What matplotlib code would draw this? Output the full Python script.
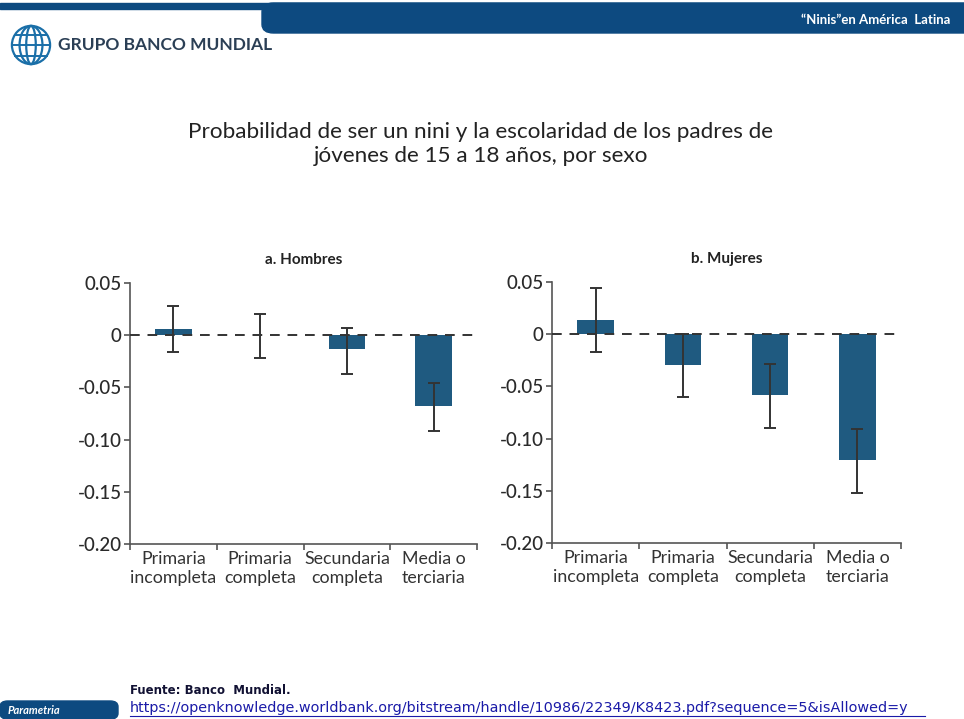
import matplotlib.pyplot as plt
from matplotlib.patches import FancyBboxPatch, Rectangle, Ellipse

plt.rcParams['font.family'] = ['Lato', 'DejaVu Sans']

categorias = ['Primaria\nincompleta', 'Primaria\ncompleta', 'Secundaria\ncompleta', 'Media o\nterciaria']

# Hombres: coeficiente y extremos del intervalo
hombres = [0.006, 0.0, -0.013, -0.068]
hombres_alto = [0.028, 0.0205, 0.007, -0.0457]
hombres_bajo = [-0.016, -0.0217, -0.037, -0.092]

# Mujeres
mujeres = [0.0134, -0.0297, -0.058, -0.1207]
mujeres_alto = [0.0438, 0.0, -0.029, -0.091]
mujeres_bajo = [-0.017, -0.060, -0.0898, -0.1517]

yticks = [0.05, 0, -0.05, -0.10, -0.15, -0.20]
ytick_labels = ['0.05', '0', '-0.05', '-0.10', '-0.15', '-0.20']

azul = '#1f5a80'
W, H = 964, 719

fig = plt.figure(figsize=(9.64, 7.19), dpi=100)
fig.patch.set_facecolor('white')


def fx(px):
    return px / W


def fy(py):
    return 1 - py / H


# header band
fig.patches.append(Rectangle((0, fy(9)), 1, 6 / H, transform=fig.transFigure,
                             color='#0d4a80', zorder=0))
fig.patches.append(FancyBboxPatch((fx(262), fy(33)), fx(720), 30 / H,
                                  boxstyle='round,pad=0,rounding_size=0.012',
                                  transform=fig.transFigure, color='#0d4a80', zorder=0))
fig.text(fx(950), fy(20), '\u201cNinis\u201den Am\u00e9rica  Latina', color='white',
         fontsize=9.5, fontweight='bold', ha='right', va='center')

# logo
globe = fig.add_axes([fx(10), fy(66), fx(42), 42 / H])
globe.set_xlim(-1.1, 1.1)
globe.set_ylim(-1.1, 1.1)
globe.set_aspect('equal')
globe.axis('off')
for w in [2.0, 1.2, 0.5]:
    globe.add_patch(Ellipse((0, 0), w, 2.0, fill=False, color='#1a6fa8', lw=1.6))
for h in [0.0, 0.55, -0.55]:
    half = (1 - h ** 2) ** 0.5
    globe.plot([-half, half], [h, h], color='#1a6fa8', lw=1.4)
fig.text(fx(58), fy(45), 'GRUPO BANCO MUNDIAL', color='#2b3f55', fontsize=12.5,
         fontweight='bold', va='center')

# title
fig.text(fx(481), fy(144),
         'Probabilidad de ser un nini y la escolaridad de los padres de\nj\u00f3venes de 15 a 18 a\u00f1os, por sexo',
         ha='center', va='center', fontsize=16.2, color='#222222', linespacing=1.3)


def panel(rect, titulo, valores, alto, bajo):
    ax = fig.add_axes(rect)
    x = list(range(len(valores)))
    err = [[v - b for v, b in zip(valores, bajo)], [a - v for v, a in zip(valores, alto)]]
    ax.bar(x, valores, width=0.42, color=azul, zorder=2)
    ax.errorbar(x, valores, yerr=err, fmt='none', ecolor='#333333', elinewidth=1.4,
                capsize=4, capthick=1.4, zorder=3)
    ax.axhline(0, color='#333333', lw=1.4, ls=(0, (5, 4)), zorder=4)
    ax.set_xlim(-0.5, 3.5)
    ax.set_ylim(-0.20, 0.05)
    ax.set_yticks(yticks)
    ax.set_yticklabels(ytick_labels)
    ax.set_xticks([-0.5, 0.5, 1.5, 2.5, 3.5])
    ax.set_xticklabels([])
    ax.set_xticks(x, minor=True)
    ax.set_xticklabels(categorias, minor=True)
    ax.tick_params(axis='x', which='minor', length=0, pad=5, labelsize=12.8, labelcolor='#333333')
    ax.tick_params(axis='x', which='major', length=4, color='#555555', width=1.2)
    ax.tick_params(axis='y', length=4, color='#555555', width=1.2, labelsize=13.5,
                   labelcolor='#2a2a2a', pad=2)
    for lab in ax.get_yticklabels():
        lab.set_fontweight('medium')
    for s in ['top', 'right']:
        ax.spines[s].set_visible(False)
    for s in ['left', 'bottom']:
        ax.spines[s].set_color('#555555')
        ax.spines[s].set_linewidth(1.2)
    ax.set_title(titulo, fontsize=11, fontweight='bold', color='#222222', pad=14)
    ax.set_facecolor('none')
    return ax


panel([fx(130), fy(544), fx(347), 261 / H], 'a. Hombres', hombres, hombres_alto, hombres_bajo)
panel([fx(552), fy(543), fx(349), 261 / H], 'b. Mujeres', mujeres, mujeres_alto, mujeres_bajo)

# footer
fig.patches.append(FancyBboxPatch((0, 0), fx(118), 18 / H,
                                  boxstyle='round,pad=0,rounding_size=0.008',
                                  transform=fig.transFigure, color='#0d4a80', zorder=0))
fig.text(fx(8), fy(710), 'Parametria', color='white', fontsize=8, style='italic',
         fontweight='bold', va='center')
fig.text(fx(130), fy(690), 'Fuente: Banco  Mundial.', fontsize=8.5, fontweight='bold',
         color='#111133', va='center', family=['DejaVu Sans'])
fig.text(fx(130), fy(708),
         'https://openknowledge.worldbank.org/bitstream/handle/10986/22349/K8423.pdf?sequence=5&isAllowed=y',
         fontsize=10.4, color='#1a1aa8', va='center', family=['DejaVu Sans'])
fig.lines.append(plt.Line2D([fx(130), fx(925)], [fy(716), fy(716)], transform=fig.transFigure,
                            color='#1a1aa8', lw=0.8))

fig.savefig('out.png', dpi=100)
